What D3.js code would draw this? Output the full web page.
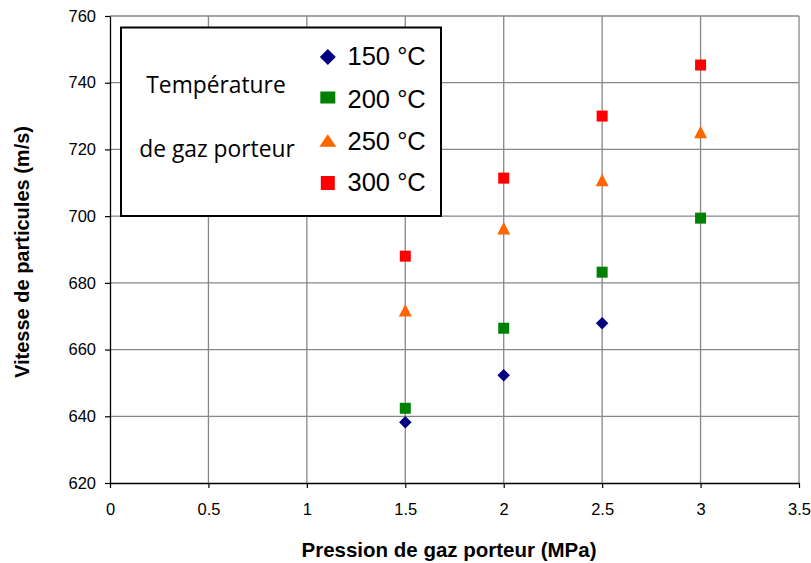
<!DOCTYPE html>
<html><head><meta charset="utf-8">
<script src="https://cdn.jsdelivr.net/npm/d3@7"></script>
<style>body{margin:0;background:#fff}svg{display:block}</style>
</head><body>
<script>
const pressures = [1.5, 2.0, 2.5, 3.0];
const s150 = [638.2, 652.3, 667.9, null];
const s200 = [642.4, 666.4, 683.2, 699.4];
const s250 = [671.8, 696.4, 710.8, 725.2];
const s300 = [688.0, 711.4, 730.0, 745.3];
const seriesNames = ["150 °C", "200 °C", "250 °C", "300 °C"];
const xTicks = [0, 0.5, 1, 1.5, 2, 2.5, 3, 3.5];
const yTicks = [620, 640, 660, 680, 700, 720, 740, 760];

const series = [
  {name: seriesNames[0], vals: s150, color: "#000080", shape: "diamond", lw: 16, lh: 16},
  {name: seriesNames[1], vals: s200, color: "#008000", shape: "square", lw: 15, lh: 12},
  {name: seriesNames[2], vals: s250, color: "#FF6600", shape: "triangle", lw: 17, lh: 12.5},
  {name: seriesNames[3], vals: s300, color: "#FF0000", shape: "square", lw: 14, lh: 14}
];

const W = 811, H = 563;
const m = {left: 110, right: 799, top: 16, bottom: 483};
const svg = d3.select("body").append("svg").attr("width", W).attr("height", H);
const x = d3.scaleLinear().domain([0, 3.5]).range([m.left, m.right]);
const y = d3.scaleLinear().domain([620, 760]).range([m.bottom, m.top]);

// grid
const g = svg.append("g");
g.selectAll(".vg").data(xTicks.slice(1)).enter().append("line")
  .attr("x1", d => x(d)).attr("x2", d => x(d)).attr("y1", m.top).attr("y2", m.bottom)
  .attr("stroke", "#878787").attr("stroke-width", 1.3);
g.selectAll(".hg").data(yTicks.slice(1)).enter().append("line")
  .attr("x1", m.left).attr("x2", m.right).attr("y1", d => y(d)).attr("y2", d => y(d))
  .attr("stroke", "#878787").attr("stroke-width", 1.3);

// axes
const xa = svg.append("g").attr("transform", `translate(0,${m.bottom})`)
  .call(d3.axisBottom(x).tickValues(xTicks).tickSize(5).tickSizeOuter(0).tickPadding(15).tickFormat(d3.format("")));
const ya = svg.append("g").attr("transform", `translate(${m.left},0)`)
  .call(d3.axisLeft(y).tickValues(yTicks).tickSize(5).tickSizeOuter(0).tickPadding(9).tickFormat(d3.format("")));
[xa, ya].forEach(a => {
  a.selectAll("path").attr("stroke", "#000").attr("stroke-width", 1.3);
  a.selectAll("line").attr("stroke", "#000").attr("stroke-width", 1.2);
  a.selectAll("text").attr("font-family", "Liberation Sans, Arial, sans-serif").attr("font-size", 16.5).attr("fill", "#000");
});

// markers
function drawMarker(sel, shape, color, cx, cy, w, h) {
  const hw = w / 2, hh = h / 2;
  if (shape === "diamond") {
    sel.append("path").attr("d", `M${cx},${cy-hh}L${cx+hw},${cy}L${cx},${cy+hh}L${cx-hw},${cy}Z`).attr("fill", color);
  } else if (shape === "square") {
    sel.append("rect").attr("x", cx-hw).attr("y", cy-hh).attr("width", w).attr("height", h).attr("fill", color);
  } else {
    sel.append("path").attr("d", `M${cx},${cy-hh}L${cx+hw},${cy+hh}L${cx-hw},${cy+hh}Z`).attr("fill", color);
  }
}
const dims = {diamond: [12.5, 12.5], square: [11, 11], triangle: [13, 12.5]};
const pts = svg.append("g");
series.forEach(s => {
  s.vals.forEach((v, i) => {
    if (v == null) return;
    const [w, h] = dims[s.shape];
    drawMarker(pts, s.shape, s.color, x(pressures[i]), y(v), w, h);
  });
});

// legend
const lg = svg.append("g");
lg.append("rect").attr("x", 121).attr("y", 27.5).attr("width", 320).attr("height", 188.5)
  .attr("fill", "#fff").attr("stroke", "#000").attr("stroke-width", 2);
lg.append("text").attr("x", 216).attr("y", 92.5).attr("text-anchor", "middle")
  .attr("font-family", "Open Sans, sans-serif").attr("font-size", 22.8).text("Température");
lg.append("text").attr("x", 217).attr("y", 156.5).attr("text-anchor", "middle")
  .attr("font-family", "Open Sans, sans-serif").attr("font-size", 22.8).text("de gaz porteur");
const legendY = [57, 97.5, 140.5, 183];
const textBase = [64.5, 107.5, 149.5, 191];
series.forEach((s, i) => {
  drawMarker(lg, s.shape, s.color, 327.8, legendY[i], s.lw, s.lh);
  lg.append("text").attr("x", 347.5).attr("y", textBase[i])
    .attr("font-family", "Liberation Sans, Arial, sans-serif").attr("font-size", 25.5).text(s.name);
});

// axis titles
svg.append("text").attr("x", 449).attr("y", 557).attr("text-anchor", "middle")
  .attr("font-family", "Liberation Sans, Arial, sans-serif").attr("font-weight", "bold").attr("font-size", 20.5)
  .text("Pression de gaz porteur (MPa)");
svg.append("text").attr("transform", "translate(29,252) rotate(-90)").attr("text-anchor", "middle")
  .attr("font-family", "Liberation Sans, Arial, sans-serif").attr("font-weight", "bold").attr("font-size", 20)
  .text("Vitesse de particules (m/s)");
</script>
</body></html>
